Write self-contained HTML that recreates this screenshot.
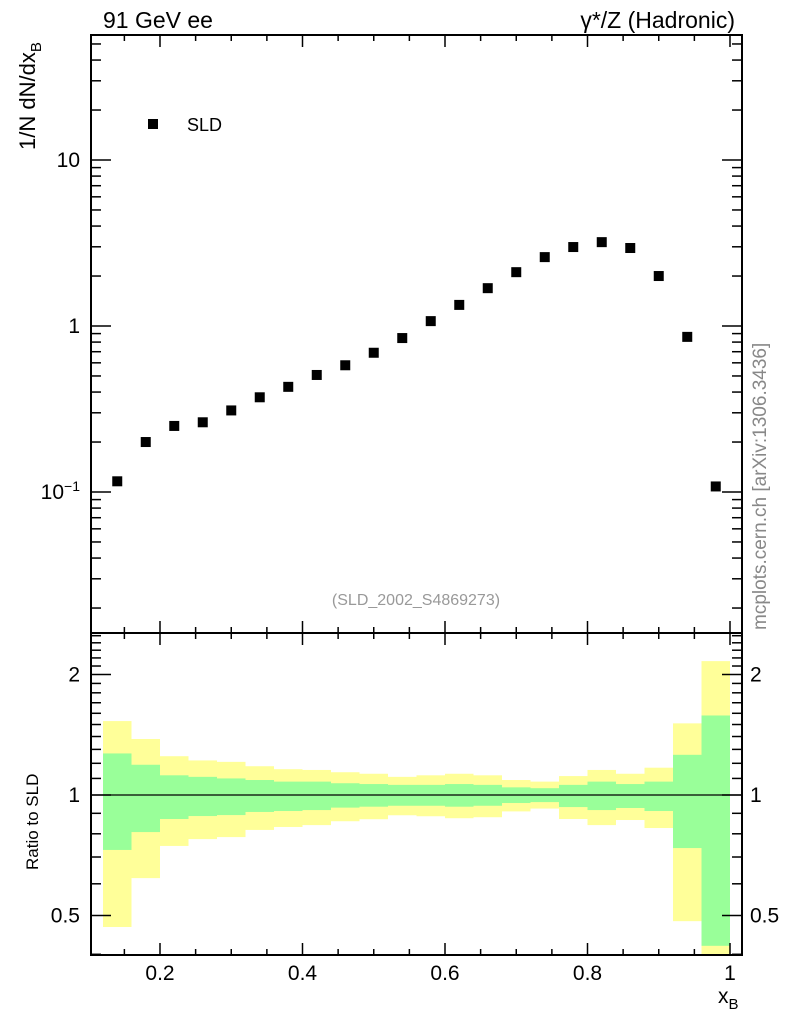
<!DOCTYPE html>
<html><head><meta charset="utf-8"><style>
body{margin:0;background:#fff;}
svg{display:block;font-family:"Liberation Sans",Arial,sans-serif;}
</style></head><body>
<svg id="c" width="786" height="1024" viewBox="0 0 786 1024"></svg>
<script>
const xCenters=[0.14,0.18,0.22,0.26,0.30,0.34,0.38,0.42,0.46,0.50,0.54,0.58,0.62,0.66,0.70,0.74,0.78,0.82,0.86,0.90,0.94,0.98];
const sldValues=[0.116,0.20,0.25,0.263,0.31,0.372,0.43,0.507,0.58,0.69,0.846,1.07,1.34,1.69,2.11,2.6,2.99,3.2,2.95,2.0,0.86,0.108];
const greenUp=[1.27,1.19,1.12,1.11,1.10,1.09,1.08,1.08,1.07,1.065,1.06,1.06,1.065,1.06,1.045,1.04,1.06,1.08,1.065,1.08,1.26,1.58];
const greenLo=[0.729,0.808,0.871,0.886,0.891,0.907,0.912,0.917,0.93,0.935,0.94,0.94,0.935,0.94,0.955,0.96,0.933,0.917,0.928,0.912,0.737,0.42];
const yellowUp=[1.53,1.38,1.25,1.22,1.21,1.18,1.16,1.155,1.14,1.13,1.11,1.12,1.13,1.12,1.09,1.08,1.115,1.155,1.13,1.17,1.51,2.16];
const yellowLo=[0.468,0.62,0.746,0.776,0.785,0.818,0.832,0.841,0.86,0.87,0.89,0.885,0.875,0.88,0.91,0.925,0.871,0.841,0.866,0.827,0.484,0.38];
const binW=0.04;
const xTickLabels=["0.2","0.4","0.6","0.8","1"];
const yTickLabels=["10","1"];
const rTickLabels=["2","1","0.5"];

const NS="http://www.w3.org/2000/svg";
const svg=document.getElementById('c');
const L=91,R=742,T=35,M=633,B=955;
const X=v=>160+(v-0.2)*712.5;
const Y=v=>160-(Math.log10(v)-1)*166;
const RY=v=>795-Math.log2(v)*120.5;
function el(tag,attrs,parent){const e=document.createElementNS(NS,tag);for(const k in attrs)e.setAttribute(k,attrs[k]);(parent||svg).appendChild(e);return e;}

const bands=el('g',{});


xCenters.forEach((c,i)=>{
  const x0=X(c-binW/2),x1=X(c+binW/2);
  const yu=RY(yellowUp[i]),yl=Math.min(RY(yellowLo[i]),B);
  const r1=el('rect',{x:x0,y:yu,width:x1-x0,height:yl-yu,fill:'#ffff99'},bands);
  
  
  const gu=RY(greenUp[i]),gl=Math.min(RY(greenLo[i]),B);
  const r2=el('rect',{x:x0,y:gu,width:x1-x0,height:gl-gu,fill:'#99ff99'},bands);
  
  
});
el('line',{x1:L,x2:R,y1:RY(1),y2:RY(1),stroke:'#000','stroke-width':1.3});

const pts=el('g',{});


xCenters.forEach((c,i)=>{
  const p=el('rect',{x:X(c)-5,y:Y(sldValues[i])-5,width:10,height:10,fill:'#000'},pts);
  
  
});

el('rect',{x:L,y:T,width:R-L,height:M-T,fill:'none',stroke:'#000','stroke-width':2});
el('rect',{x:L,y:M,width:R-L,height:B-M,fill:'none',stroke:'#000','stroke-width':2});

for(let v=0.15;v<=1.001;v+=0.05){
  const major=Math.abs(v*10-Math.round(v*10))<0.01 && Math.round(v*10)%2===0;
  const len=major?12:6,x=X(v);
  [[T,1],[M,-1],[M,1],[B,-1]].forEach(([y,d])=>el('line',{x1:x,x2:x,y1:y,y2:y+d*len,stroke:'#000','stroke-width':1.5}));
}
xTickLabels.forEach(t=>{
  const tx=el('text',{x:X(parseFloat(t)),y:980,'font-size':21,'text-anchor':'middle'});
  tx.textContent=t;
  
  
});

for(let dec=-2;dec<=1;dec++){
  for(let m=1;m<10;m++){
    const v=m*Math.pow(10,dec);const y=Y(v);
    if(y<T||y>M)continue;
    const len=m===1?20:10;
    el('line',{x1:L,x2:L+len,y1:y,y2:y,stroke:'#000','stroke-width':1.5});
    el('line',{x1:R,x2:R-len,y1:y,y2:y,stroke:'#000','stroke-width':1.5});
  }
}
yTickLabels.forEach(t=>{
  const tx=el('text',{x:80,y:Y(parseFloat(t))+7,'font-size':21,'text-anchor':'end'});
  tx.textContent=t;
  
  
});
const t01=el('text',{x:80,y:Y(0.1)+7,'font-size':21,'text-anchor':'end'});
t01.innerHTML='10<tspan dy="-8" font-size="14">−1</tspan>';



[0.4,0.5,0.6,0.7,0.8,0.9,1,1.1,1.2,1.3,1.4,1.5,1.6,1.7,1.8,1.9,2,2.1,2.2,2.3,2.4,2.5].forEach(v=>{
  const y=RY(v);if(y<M||y>B)return;
  const len=(v===0.5||v===1||v===2)?20:10;
  el('line',{x1:L,x2:L+len,y1:y,y2:y,stroke:'#000','stroke-width':1.5});
  el('line',{x1:R,x2:R-len,y1:y,y2:y,stroke:'#000','stroke-width':1.5});
});
rTickLabels.forEach(t=>{
  const y=RY(parseFloat(t))+7;
  const a=el('text',{x:80,y:y,'font-size':21,'text-anchor':'end'});a.textContent=t;
  
  
  const b=el('text',{x:750,y:y,'font-size':21,'text-anchor':'start'});b.textContent=t;
  
  
});
</script>
<svg width="786" height="1024" style="position:absolute;left:0;top:0" font-family="Liberation Sans, Arial, sans-serif">
<text x="103" y="28" font-size="23">91 GeV ee</text>
<text x="735" y="28" font-size="23" text-anchor="end">γ*/Z (Hadronic)</text>
<text transform="translate(35,150) rotate(-90)" font-size="22">1/N dN/dx<tspan dy="6" font-size="15">B</tspan></text>
<text transform="translate(38,870) rotate(-90)" font-size="17">Ratio to SLD</text>
<text x="718" y="1003" font-size="21">x<tspan dy="6" font-size="15">B</tspan></text>
<rect x="148" y="119" width="10" height="10" fill="#000"/>
<text x="187" y="131" font-size="18">SLD</text>
<text x="416" y="605" font-size="16" fill="#999" text-anchor="middle">(SLD_2002_S4869273)</text>
<text transform="translate(766,630) rotate(-90)" font-size="19" fill="#888">mcplots.cern.ch [arXiv:1306.3436]</text>
</svg>
</body></html>
